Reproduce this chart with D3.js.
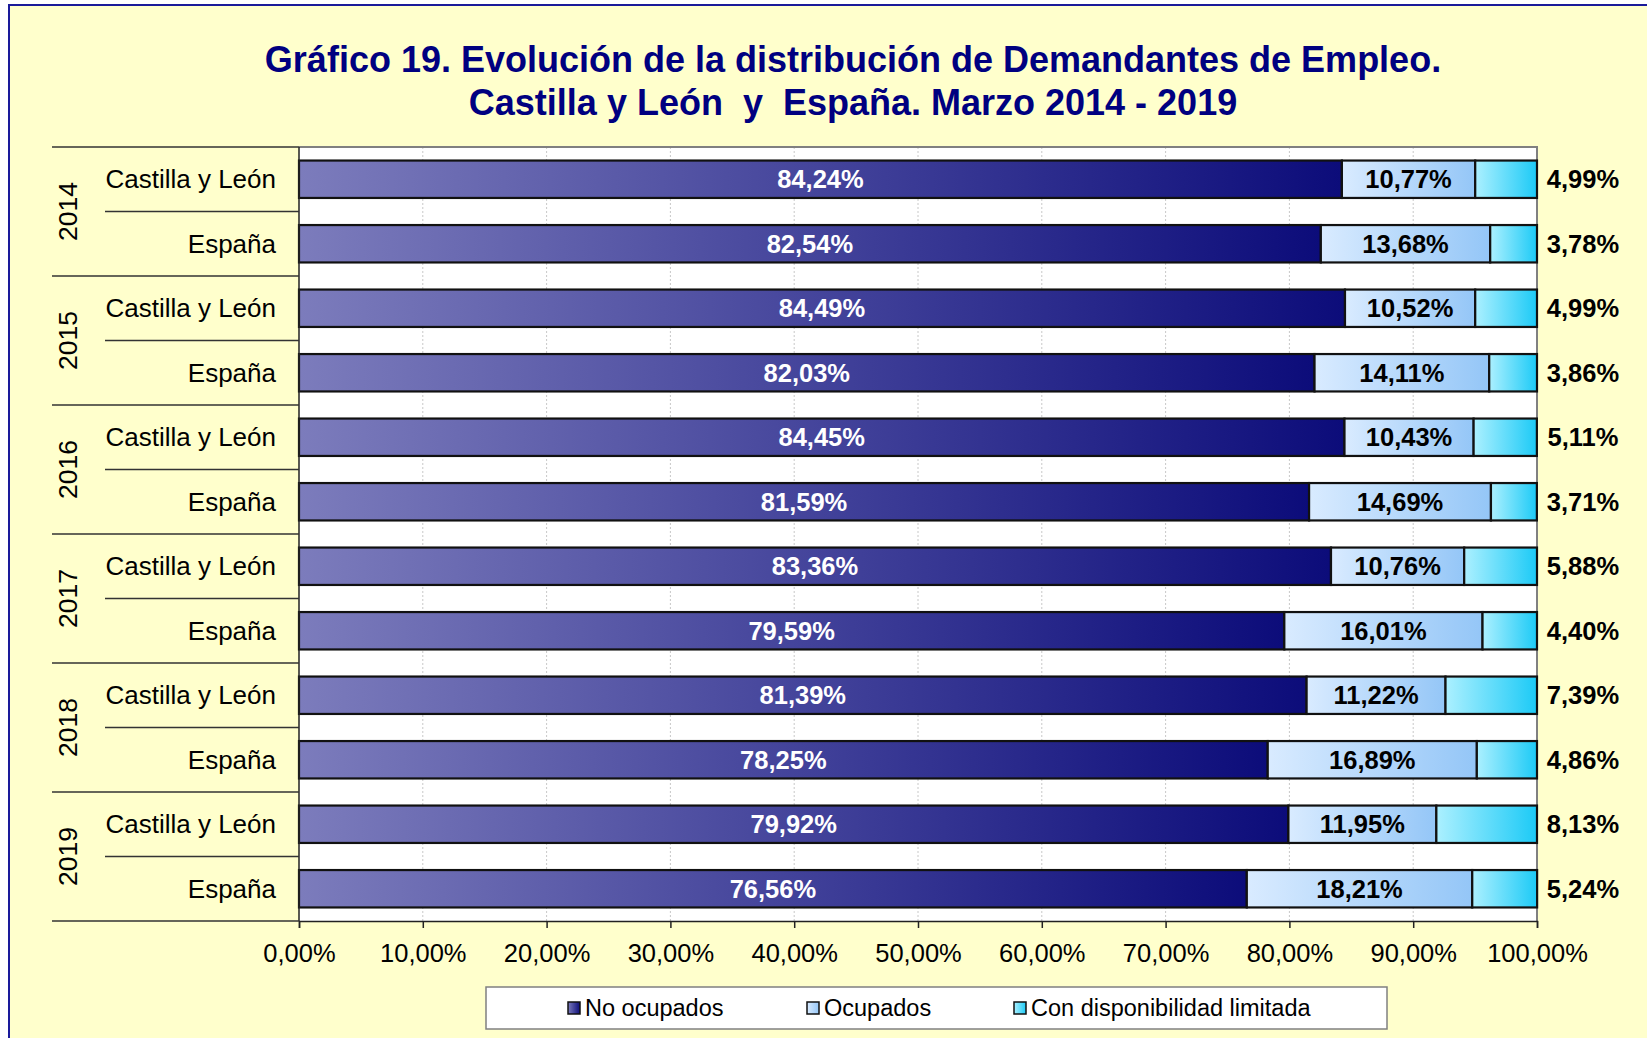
<!DOCTYPE html>
<html>
<head>
<meta charset="utf-8">
<script src="https://cdn.jsdelivr.net/npm/d3@7"></script>
<style>
  body { margin: 0; background: #fff; }
  svg text { font-family: 'Liberation Sans', Arial, sans-serif; }
</style>
</head>
<body>
<div id="chart"></div>
<script>
// data
const years = ['2014', '2015', '2016', '2017', '2018', '2019'];
const regions = ['Castilla y León', 'España'];
const seriesNames = ['No ocupados', 'Ocupados', 'Con disponibilidad limitada'];
const noOcupados = [84.24, 82.54, 84.49, 82.03, 84.45, 81.59, 83.36, 79.59, 81.39, 78.25, 79.92, 76.56];
const ocupados = [10.77, 13.68, 10.52, 14.11, 10.43, 14.69, 10.76, 16.01, 11.22, 16.89, 11.95, 18.21];
const limitada = [4.99, 3.78, 4.99, 3.86, 5.11, 3.71, 5.88, 4.40, 7.39, 4.86, 8.13, 5.24];
const xTicks = [0, 10, 20, 30, 40, 50, 60, 70, 80, 90, 100];

function drawChart() {
  const dimensions = {
    width: 1647,
    height: 1038,
    margin: { top: 147, right: 110, bottom: 117, left: 299 },
  };
  dimensions.boundedWidth = dimensions.width - dimensions.margin.left - dimensions.margin.right;
  dimensions.boundedHeight = dimensions.height - dimensions.margin.top - dimensions.margin.bottom;

  // rows: one per year/region pair
  const rows = [];
  years.forEach((y, yi) => {
    regions.forEach((r, ri) => {
      const i = yi * regions.length + ri;
      rows.push({ key: y + '|' + r, year: y, region: r, values: [noOcupados[i], ocupados[i], limitada[i]] });
    });
  });
  const stacked = d3.stack().keys([0, 1, 2]).value((d, k) => d.values[k])(rows);

  const locale = d3.formatLocale({ decimal: ',', thousands: '.', grouping: [3], currency: ['', '€'] });
  const fmt = locale.format('.2f');

  const xScale = d3.scaleLinear().domain([0, 100]).range([0, dimensions.boundedWidth]);
  const yScale = d3.scaleBand().domain(rows.map((d) => d.key)).range([0, dimensions.boundedHeight]);
  const barHeight = yScale.bandwidth() * 0.58;

  const wrapper = d3.select('#chart').append('svg')
    .attr('width', dimensions.width)
    .attr('height', dimensions.height);

  // gradients
  const defs = wrapper.append('defs');
  const gradStops = [
    ['#7c7cbc', '#0c0c7a'],
    ['#d9ebff', '#94c6f7'],
    ['#acf0ff', '#1ccaf6'],
  ];
  gradStops.forEach((c, i) => {
    const g = defs.append('linearGradient').attr('id', 'grad' + i)
      .attr('x1', '0%').attr('x2', '100%').attr('y1', '0%').attr('y2', '0%');
    g.append('stop').attr('offset', '0%').attr('stop-color', c[0]);
    g.append('stop').attr('offset', '100%').attr('stop-color', c[1]);
  });

  // background and frame
  wrapper.append('rect')
    .attr('x', 9).attr('y', 5)
    .attr('width', 1700).attr('height', 1100)
    .attr('fill', '#ffffcc')
    .attr('stroke', '#1a1a9a')
    .attr('stroke-width', 2);

  wrapper.append('text')
    .attr('x', 853).attr('y', 72)
    .attr('text-anchor', 'middle')
    .attr('fill', '#000080')
    .style('font-size', '36px')
    .style('font-weight', 'bold')
    .text('Gráfico 19. Evolución de la distribución de Demandantes de Empleo.');
  wrapper.append('text')
    .attr('x', 853).attr('y', 115)
    .attr('text-anchor', 'middle')
    .attr('fill', '#000080')
    .style('font-size', '36px')
    .style('font-weight', 'bold')
    .style('white-space', 'pre')
    .text('Castilla y León  y  España. Marzo 2014 - 2019');

  const bounds = wrapper.append('g')
    .attr('transform', `translate(${dimensions.margin.left}, ${dimensions.margin.top})`);

  bounds.append('rect')
    .attr('width', dimensions.boundedWidth)
    .attr('height', dimensions.boundedHeight)
    .attr('fill', '#fff');

  // grid
  bounds.append('g').selectAll('line')
    .data(xTicks.slice(1, -1))
    .join('line')
    .attr('x1', (d) => xScale(d)).attr('x2', (d) => xScale(d))
    .attr('y1', 0).attr('y2', dimensions.boundedHeight)
    .attr('stroke', '#c8c8c8')
    .attr('stroke-dasharray', '2,2');

  // plot border
  bounds.append('path')
    .attr('d', `M0,0H${dimensions.boundedWidth}V${dimensions.boundedHeight}`)
    .attr('fill', 'none')
    .attr('stroke', '#808080')
    .attr('stroke-width', 2);

  // bars
  const layers = bounds.append('g').selectAll('g')
    .data(stacked)
    .join('g')
    .attr('fill', (d, i) => `url(#grad${i})`);

  layers.selectAll('rect')
    .data((d) => d)
    .join('rect')
    .attr('x', (d) => xScale(d[0]))
    .attr('y', (d) => yScale(d.data.key) + (yScale.bandwidth() - barHeight) / 2)
    .attr('width', (d) => xScale(d[1]) - xScale(d[0]))
    .attr('height', barHeight)
    .attr('stroke', '#111')
    .attr('stroke-width', 2.2);

  // data labels
  const labels = bounds.append('g')
    .style('font-size', '25.5px')
    .style('font-weight', 'bold');
  stacked.forEach((layer, i) => {
    labels.append('g').selectAll('text')
      .data(layer)
      .join('text')
      .attr('x', (d) => i < 2 ? xScale((d[0] + d[1]) / 2) : dimensions.boundedWidth + 46)
      .attr('y', (d) => yScale(d.data.key) + yScale.bandwidth() / 2)
      .attr('dy', '0.36em')
      .attr('text-anchor', 'middle')
      .attr('fill', i === 0 ? '#fff' : '#000')
      .text((d) => fmt(d.data.values[i]) + '%');
  });

  // x axis
  const xAxisGenerator = d3.axisBottom(xScale)
    .tickValues(xTicks)
    .tickSize(7)
    .tickPadding(16)
    .tickFormat((d) => fmt(d) + '%');
  const xAxis = bounds.append('g')
    .attr('transform', `translate(0, ${dimensions.boundedHeight})`)
    .call(xAxisGenerator);
  xAxis.select('.domain').attr('stroke', '#222').attr('stroke-width', 1.5);
  xAxis.selectAll('.tick line').attr('stroke', '#222').attr('stroke-width', 1.5);
  xAxis.selectAll('.tick text')
    .attr('fill', '#000')
    .style('font-size', '25.5px')
    .style('font-family', "'Liberation Sans', Arial, sans-serif");

  // left axis: two-level categories
  const yAxis = bounds.append('g');
  yAxis.append('line')
    .attr('x1', 0).attr('x2', 0)
    .attr('y1', 0).attr('y2', dimensions.boundedHeight)
    .attr('stroke', '#222').attr('stroke-width', 1.5);

  const groupEdges = years.map((y) => yScale(y + '|' + regions[0])).concat([dimensions.boundedHeight]);
  yAxis.selectAll('.group-line')
    .data(groupEdges)
    .join('line')
    .attr('x1', -247).attr('x2', 0)
    .attr('y1', (d) => d).attr('y2', (d) => d)
    .attr('stroke', '#333').attr('stroke-width', 1.5);

  yAxis.selectAll('.sub-line')
    .data(years)
    .join('line')
    .attr('x1', -194).attr('x2', 0)
    .attr('y1', (d) => yScale(d + '|' + regions[1]))
    .attr('y2', (d) => yScale(d + '|' + regions[1]))
    .attr('stroke', '#333').attr('stroke-width', 1.5);

  yAxis.selectAll('.cat')
    .data(rows)
    .join('text')
    .attr('x', -23)
    .attr('y', (d) => yScale(d.key) + yScale.bandwidth() / 2)
    .attr('dy', '0.35em')
    .attr('text-anchor', 'end')
    .attr('fill', '#000')
    .style('font-size', '26px')
    .text((d) => d.region);

  yAxis.selectAll('.year')
    .data(years)
    .join('text')
    .attr('transform', (d) => `translate(-231, ${yScale(d + '|' + regions[1])}) rotate(-90)`)
    .attr('dy', '0.35em')
    .attr('text-anchor', 'middle')
    .attr('fill', '#000')
    .style('font-size', '26.5px')
    .text((d) => d);

  // legend
  const legend = wrapper.append('g').attr('transform', 'translate(486, 987)');
  legend.append('rect')
    .attr('width', 901).attr('height', 42)
    .attr('fill', '#fff')
    .attr('stroke', '#808080')
    .attr('stroke-width', 1.5);
  const legendX = [82, 321, 528];
  const items = legend.selectAll('.item')
    .data(seriesNames)
    .join('g')
    .attr('transform', (d, i) => `translate(${legendX[i]}, 15)`);
  items.append('rect')
    .attr('width', 12).attr('height', 12)
    .attr('fill', (d, i) => `url(#grad${i})`)
    .attr('stroke', '#111').attr('stroke-width', 1.5);
  items.append('text')
    .attr('x', 17).attr('y', 6)
    .attr('dy', '0.35em')
    .attr('fill', '#000')
    .style('font-size', '23.5px')
    .text((d) => d);
}

drawChart();
</script>
</body>
</html>
